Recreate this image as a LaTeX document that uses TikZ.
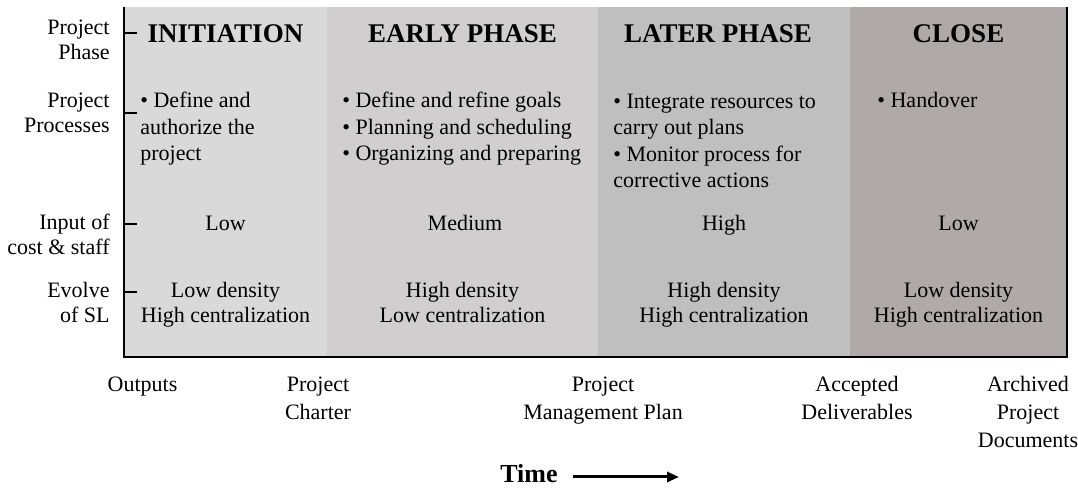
\documentclass[tikz,border=0pt]{standalone}
\usepackage{fontspec}
\setmainfont{Liberation Serif}
\usetikzlibrary{arrows.meta, positioning}
\definecolor{initcol}{RGB}{217,217,217}
\definecolor{earlycol}{RGB}{208,206,207}
\definecolor{latercol}{RGB}{191,191,191}
\definecolor{closecol}{RGB}{175,170,169}

\begin{document}
\begin{tikzpicture}[x=0.5pt, y=-0.5pt,
  plaintext/.style={font=\fontsize{11}{12.5}\selectfont, inner sep=0pt},
  rowlabel/.style={plaintext, align=right, anchor=base east},
  cellval/.style={plaintext, align=center, anchor=base},
  bulletlist/.style={font=\fontsize{11}{13.3}\selectfont, inner sep=0pt,
                     align=left, anchor=base west},
  phasehead/.style={font=\bfseries\fontsize{13.5}{16}\selectfont,
                    inner sep=0pt, anchor=base},
  outtext/.style={font=\fontsize{11}{14}\selectfont, inner sep=0pt,
                  align=center, anchor=base},
  axisline/.style={line width=1pt},
  axistick/.style={line width=0.8pt}]

  \useasboundingbox (0,0) rectangle (1078,490);

  %% ─── Phase bands ──────────────────────────────────────────────────────────
  \foreach \b/\xa/\xb/\col in {init/124/327/initcol, early/327/598/earlycol,
                               later/598/850/latercol, close/850/1067/closecol} {
    \fill[\col] (\xa,7) rectangle (\xb,357);
  }

  \foreach \b/\xc/\name in {init/225.5/INITIATION, early/462.5/EARLY PHASE,
                            later/718/LATER PHASE, close/958.5/CLOSE}
    \node[phasehead] (head-\b) at (\xc,43) {\name};

  %% ─── Project processes (placed at the baseline of the last line) ──────────
  \node[bulletlist] (proc-init) at (140,161)
    {• Define and\\authorize the\\project};
  \node[bulletlist] (proc-early) at (342,161)
    {• Define and refine goals\\• Planning and scheduling\\• Organizing and preparing};
  \node[bulletlist] (proc-later) at (613,188)
    {• Integrate resources to\\carry out plans\\• Monitor process for\\corrective actions};
  \node[bulletlist] (proc-close) at (877,108) {• Handover};

  %% ─── Input and SL rows ────────────────────────────────────────────────────
  \foreach \b/\xc/\v in {init/225.5/Low, early/465/Medium, later/724/High,
                         close/958.5/Low}
    \node[cellval] (input-\b) at (\xc,231) {\v};

  \foreach \b/\xc/\v in {init/225.5/{Low density\\High centralization},
                         early/462.5/{High density\\Low centralization},
                         later/724/{High density\\High centralization},
                         close/958.5/{Low density\\High centralization}}
    \node[cellval] (sl-\b) at (\xc,323) {\v};

  %% ─── Axis frame and ticks ─────────────────────────────────────────────────
  \draw[axisline] (124,7) -- (124,357) -- (1067,357) -- (1067,7);
  \foreach \y in {33,113,224,292}
    \draw[axistick] (124,\y) -- ++(13,0);

  \node[rowlabel] (lab-phase) at (110,60) {Project\\Phase};
  \node[rowlabel] (lab-proc) at (110,133) {Project\\Processes};
  \node[rowlabel] (lab-input) at (110,255) {Input of\\cost \& staff};
  \node[rowlabel] (lab-sl) at (110,323) {Evolve\\of SL};

  %% ─── Outputs ──────────────────────────────────────────────────────────────
  \node[outtext] (out-label) at (142.5,392) {Outputs};
  \node[outtext] (out-charter) at (318,420) {Project\\Charter};
  \node[outtext] (out-plan) at (603,420) {Project\\Management Plan};
  \node[outtext] (out-accepted) at (857,420) {Accepted\\Deliverables};
  \node[outtext] (out-archived) at (1028,448) {Archived\\Project\\Documents};

  %% ─── Time arrow ───────────────────────────────────────────────────────────
  \node[phasehead, font=\bfseries\fontsize{13}{15}\selectfont] (time) at (529,483) {Time};
  \coordinate (timestart) at (573,477);
  \coordinate (timeend) at (679,477);
  \draw[line width=1.5pt, -{Triangle[length=6pt, width=5pt]}] (timestart) -- (timeend);
\end{tikzpicture}
\end{document}
